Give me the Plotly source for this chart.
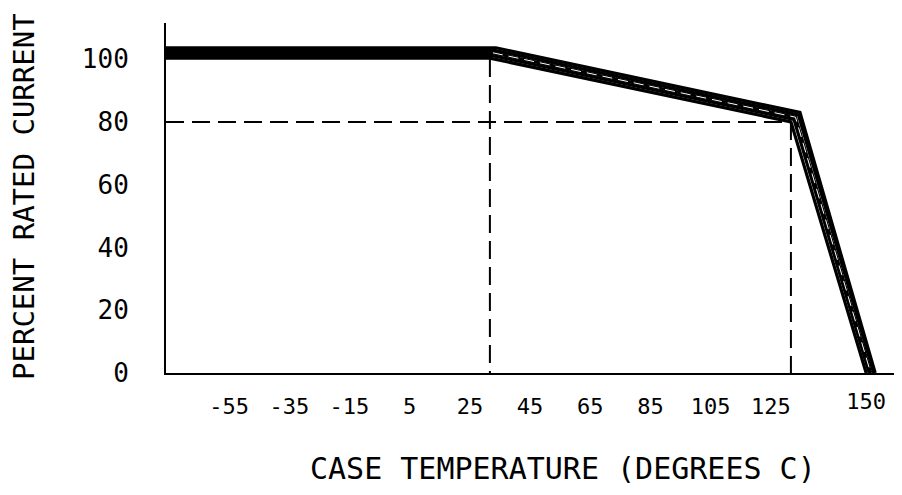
import plotly.graph_objects as go

# ---- data ----
temps_axis_start = -82.6
temps_axis_end = 161.9
# knee temperatures of each band line (start, end of flat, end of slope, zero)
band_temps = [
    [-82.6, 25.0, 125.0, 150.0],
    [-82.6, 25.5, 126.0, 151.0],
    [-82.6, 26.0, 126.5, 151.5],
    [-82.6, 26.5, 127.5, 152.5],
    [-82.6, 27.0, 128.0, 153.0],
]
band_percent = [
    [100.3, 100.3, 80.0, 0.0],
    [101.2, 101.2, 80.8, 0.0],
    [102.0, 102.0, 81.5, 0.0],
    [102.8, 102.8, 82.2, 0.0],
    [103.6, 103.6, 83.0, 0.0],
]
ref_h_temp = [-82.6, 125.0]
ref_h_pct = [80, 80]
ref_v25_temp = [25, 25]
ref_v25_pct = [100, 0]
ref_v125_temp = [125, 125]
ref_v125_pct = [80, 0]

x_ticks = [-55, -35, -15, 5, 25, 45, 65, 85, 105, 125]
x_ticktext = ["-55", "-35", "-15", "5", "25", "45", "65", "85", "105", "125"]
x_ticks2 = [150]
x_ticktext2 = ["150"]
y_ticks = [0, 20, 40, 60, 80, 100]
y_ticktext = ["0", "20", "40", "60", "80", "100"]

FONT = "DejaVu Sans Mono"

# page body has an 8px margin; figure coordinates below are page coords - 8
W, H = 894, 487
ML, MT, MB, MR = 158, 15, 122, 0
PW, PH = W - ML - MR, H - MT - MB

fig = go.Figure()

dash = "18px,8px"
for xs, ys in [(ref_h_temp, ref_h_pct), (ref_v25_temp, ref_v25_pct), (ref_v125_temp, ref_v125_pct)]:
    fig.add_trace(go.Scatter(x=xs, y=ys, mode="lines",
                             line=dict(color="black", width=2, dash=dash), hoverinfo="skip"))

for t, p in zip(band_temps, band_percent):
    fig.add_trace(go.Scatter(x=t, y=p, mode="lines",
                             line=dict(color="black", width=3.2), hoverinfo="skip"))

# faint white streak inside the sloped part of the band
fig.add_trace(go.Scatter(x=band_temps[2][1:], y=band_percent[2][1:], mode="lines",
                         line=dict(color="white", width=1, dash="10px,6px"), hoverinfo="skip"))

fig.add_trace(go.Scatter(x=x_ticks2, y=[None], xaxis="x2", mode="lines", showlegend=False))

xrange = [temps_axis_start, temps_axis_end]
fig.update_layout(
    width=W, height=H,
    margin=dict(l=ML, r=MR, t=MT, b=MB),
    paper_bgcolor="white", plot_bgcolor="white",
    showlegend=False,
    font=dict(family=FONT, color="black"),
    xaxis=dict(range=xrange, showgrid=False, zeroline=False,
               showline=True, linecolor="black", linewidth=2,
               tickmode="array", tickvals=x_ticks, ticktext=x_ticktext,
               ticks="", ticklabelstandoff=13, ticklabelshift=-20,
               tickfont=dict(size=22, family=FONT)),
    xaxis2=dict(range=xrange, overlaying="x", side="bottom", showgrid=False,
                zeroline=False, showline=False,
                tickmode="array", tickvals=x_ticks2, ticktext=x_ticktext2,
                ticks="", ticklabelstandoff=13,
                tickfont=dict(size=22, family=FONT)),
    yaxis=dict(range=[0, 111.5], showgrid=False, zeroline=False,
               showline=True, linecolor="black", linewidth=2,
               tickmode="array", tickvals=y_ticks, ticktext=y_ticktext,
               ticks="", ticklabelstandoff=30,
               tickfont=dict(size=26, family=FONT)),
    annotations=[
        dict(text="CASE TEMPERATURE (DEGREES C)", xref="paper", yref="paper",
             x=(555 - ML) / PW, y=-(460 - (MT + PH)) / PH, xanchor="center", yanchor="middle",
             showarrow=False, font=dict(size=30, family=FONT)),
        dict(text="PERCENT RATED CURRENT", xref="paper", yref="paper",
             x=(16 - ML) / PW, y=((MT + PH) - 189) / PH, xanchor="center", yanchor="middle",
             textangle=-90, showarrow=False, font=dict(size=29, family=FONT)),
    ],
)

fig.write_html("out.html")
